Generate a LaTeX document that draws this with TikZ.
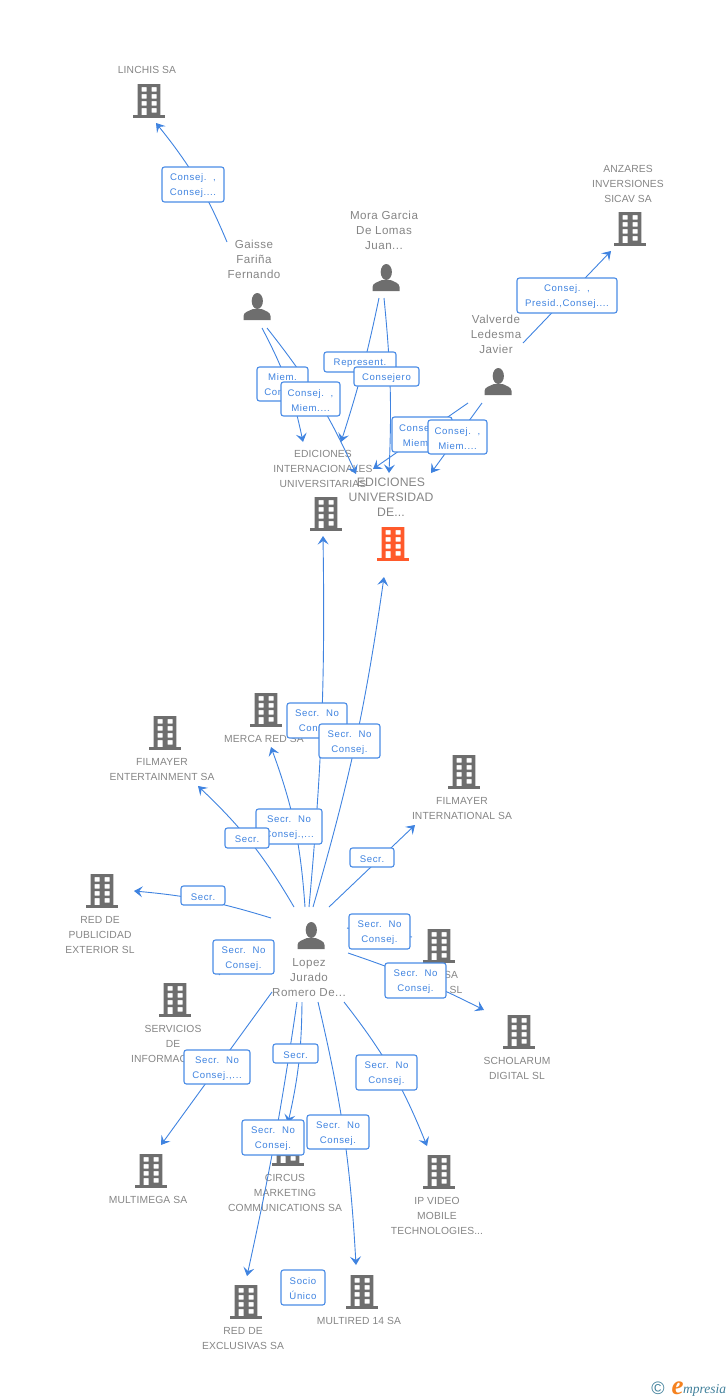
\documentclass[tikz,border=0pt]{standalone}
\usepackage{fontspec}
\setmainfont{Liberation Sans}
\newfontfamily\logofont{Liberation Serif}
\newfontfamily\bnamefont[LetterSpace=1.2]{Liberation Sans}
\newfontfamily\pnamefont[LetterSpace=4]{Liberation Sans}
\newfontfamily\labfont[LetterSpace=6.5,WordSpace=1.7]{Liberation Sans}
\usetikzlibrary{arrows.meta}
\definecolor{iconGray}{HTML}{6E6E6E}
\definecolor{nameGray}{HTML}{858585}
\definecolor{linkBlue}{HTML}{3F83E0}
\definecolor{boxBlue}{HTML}{4A8CE6}
\definecolor{focusOrange}{HTML}{FF5A2B}
\definecolor{logoTeal}{HTML}{3F7F9A}
\definecolor{logoOrange}{HTML}{F58220}
\tikzset{
  conn/.style={draw=linkBlue,line width=0.9pt,-{Stealth[length=8.5pt,width=11pt,inset=3.5pt]}},
  plain/.style={draw=linkBlue,line width=0.9pt},
  bname/.style={text=nameGray,align=center,inner sep=0pt,font=\bnamefont\fontsize{10.3}{15}\selectfont},
  pname/.style={text=nameGray,align=center,inner sep=0pt,font=\pnamefont\fontsize{11.6}{15}\selectfont},
  fname/.style={text=nameGray,align=center,inner sep=0pt,font=\bnamefont\fontsize{12.2}{15}\selectfont},
  labbox/.style={draw=boxBlue,fill=white,line width=1.1pt,rounded corners=2.5pt,inner sep=0pt},
  labtext/.style={text=linkBlue,align=center,inner sep=0pt,yshift=-1.5pt,font=\labfont\fontsize{9.6}{15}\selectfont},
  iconspot/.style={inner sep=0pt,minimum width=32pt,minimum height=34pt}
}
\newcommand{\bicon}[4][iconGray]{%
  \node[iconspot] (#2) at (#3,{#4+16.5}) {};
  \begin{scope}[shift={(#3,#4)}]
    \fill[#1,even odd rule] (-11.3,0) rectangle (11.3,31)
      (-7.5,3) rectangle (-2.5,7.5) (2.5,3) rectangle (7.5,7.5)
      (-7.5,10) rectangle (-2.5,14.5) (2.5,10) rectangle (7.5,14.5)
      (-7.5,17) rectangle (-2.5,21.5) (2.5,17) rectangle (7.5,21.5)
      (-7.5,24) rectangle (-2.5,31) (2.5,24) rectangle (7.5,28.5);
    \fill[#1] (-16,31) rectangle (16,33.5);
  \end{scope}}
\newcommand{\picon}[3]{%
  \node[inner sep=0pt,minimum width=27pt,minimum height=27pt] (#1) at (#2,{#3+13.5}) {};
  \begin{scope}[shift={(#2,#3)}]
    \fill[iconGray] (0.3,8) ellipse (5.6pt and 8pt);
    \fill[iconGray] (-13.5,27) -- (-13.5,23) .. controls (-13.5,19) and (-8,18) .. (-4,16) -- (4.6,16) .. controls (8.5,18) and (13.5,19) .. (13.5,23) -- (13.5,27) -- cycle;
  \end{scope}}
\newcommand{\lab}[6]{%
  \node[labbox,minimum width={(#4-#2)*1pt},minimum height={(#5-#3)*1pt}] (#1) at ({(#2+#4)/2},{(#3+#5)/2}) {};
  \node[labtext] (#1t) at (#1) {#6};}
\begin{document}
\begin{tikzpicture}[x=1pt,y=-1pt]
\useasboundingbox (0,0) rectangle (728,1400);
% buildings
\bicon{linchis}{149}{84}
\bicon{anzares}{630}{212}
\bicon{edint}{326}{497}
\bicon[focusOrange]{eduniv}{393}{527}
\bicon{merca}{266}{693}
\bicon{filment}{165}{716}
\bicon{filmint}{464}{755}
\bicon{redpub}{102}{874}
\bicon{servicios}{175}{983}
\bicon{hiddenco}{439}{929}
\bicon{scholarum}{519}{1015}
\bicon{multimega}{151}{1154}
\bicon{circus}{288}{1132}
\bicon{ipvideo}{439}{1155}
\bicon{redexcl}{246}{1285}
\bicon{multired}{362}{1275}
% persons
\picon{gaisse}{257}{293}
\picon{mora}{386}{264}
\picon{valverde}{498}{368}
\picon{lopez}{311}{922}
% names
\node[bname] (nlinchis) at (147,70) {LINCHIS SA};
\node[bname] (nanzares) at (628,183.5) {ANZARES\\INVERSIONES\\SICAV SA};
\node[pname] (nmora) at (384,230) {Mora Garcia\\De Lomas\\Juan...};
\node[pname] (ngaisse) at (254,259) {Gaisse\\Fariña\\Fernando};
\node[pname] (nvalverde) at (496,334) {Valverde\\Ledesma\\Javier};
\node[bname] (nedint) at (323,468.5) {EDICIONES\\INTERNACIONALES\\UNIVERSITARIAS};
\node[fname] (neduniv) at (391,497) {EDICIONES\\UNIVERSIDAD\\DE...};
\node[bname] (nmerca) at (264,739) {MERCA RED SA};
\node[bname] (nfilment) at (162,769.5) {FILMAYER\\ENTERTAINMENT SA};
\node[bname] (nfilmint) at (462,808.5) {FILMAYER\\INTERNATIONAL SA};
\node[bname] (nredpub) at (100,935) {RED DE\\PUBLICIDAD\\EXTERIOR SL};
\node[bname] (nhiddena) at (451,975) {SA};
\node[bname] (nhiddenb) at (456,990) {SL};
\node[bname] (nservicios) at (173,1036.5) {SERVICIOS\\DE};
\node[bname,anchor=west] (nserviciosb) at (131,1059) {INFORMAC};
\node[bname] (nscholarum) at (517,1068.5) {SCHOLARUM\\DIGITAL SL};
\node[bname] (nmultimega) at (148,1200) {MULTIMEGA SA};
\node[bname] (ncircus) at (285,1193) {CIRCUS\\MARKETING\\COMMUNICATIONS SA};
\node[bname] (nipvideo) at (437,1216) {IP VIDEO\\MOBILE\\TECHNOLOGIES...};
\node[bname] (nredexcl) at (243,1338.5) {RED DE\\EXCLUSIVAS SA};
\node[bname] (nmultired) at (359,1321) {MULTIRED 14 SA};
\node[pname] (nlopez) at (309,978) {Lopez\\Jurado\\Romero De...};
% connector ends
\coordinate (gaisseA) at (227,242);   \coordinate (linchisIn) at (156,123);
\coordinate (gaisseB) at (262,328);   \coordinate (edintInA) at (303,442);
\coordinate (gaisseC) at (267,328);   \coordinate (edunivInA) at (356,474);
\coordinate (moraA) at (379,298);     \coordinate (edintInB) at (341,442);
\coordinate (moraB) at (384,298);     \coordinate (edunivInB) at (389,473);
\coordinate (valverdeA) at (523,343); \coordinate (anzaresIn) at (611,251);
\coordinate (valverdeB) at (468,403); \coordinate (edunivInC) at (373,469);
\coordinate (valverdeC) at (482,403); \coordinate (edunivInD) at (431,473);
\coordinate (lopezA) at (309,907);    \coordinate (edintInC) at (323,536);
\coordinate (lopezB) at (313,907);    \coordinate (edunivInE) at (384,577);
\coordinate (lopezC) at (305,907);    \coordinate (mercaIn) at (271,747);
\coordinate (lopezD) at (294,907);    \coordinate (filmentIn) at (198,786);
\coordinate (lopezE) at (329,907);    \coordinate (filmintIn) at (415,825);
\coordinate (lopezF) at (271,918);    \coordinate (redpubIn) at (134,891);
\coordinate (lopezG) at (347,928);    \coordinate (hiddencoIn) at (412,937);
\coordinate (lopezH) at (348,953);    \coordinate (scholarumIn) at (484,1010);
\coordinate (lopezI) at (240,950);    \coordinate (serviciosIn) at (219,975);
\coordinate (lopezJ) at (272,992);    \coordinate (multimegaIn) at (161,1145);
\coordinate (lopezK) at (302,1002);   \coordinate (circusIn) at (288,1123);
\coordinate (lopezL) at (297,1002);   \coordinate (redexclIn) at (247,1276);
\coordinate (lopezM) at (318,1002);   \coordinate (multiredIn) at (356,1265);
\coordinate (lopezN) at (344,1002);   \coordinate (ipvideoIn) at (427,1146);
% connectors
\draw[conn] (gaisseA) to[bend right=8] (linchisIn);
\draw[conn] (gaisseB) to[bend left=8] (edintInA);
\draw[conn] (gaisseC) to[bend left=7] (edunivInA);
\draw[conn] (moraA) to[bend left=3] (edintInB);
\draw[conn] (moraB) to[bend left=4] (edunivInB);
\draw[conn] (valverdeA) -- (anzaresIn);
\draw[conn] (valverdeB) -- (edunivInC);
\draw[conn] (valverdeC) -- (edunivInD);
\draw[conn] (lopezA) to[bend right=3] (edintInC);
\draw[conn] (lopezB) to[bend right=4] (edunivInE);
\draw[conn] (lopezC) to[bend right=8] (mercaIn);
\draw[conn] (lopezD) to[bend right=8] (filmentIn);
\draw[conn] (lopezE) -- (filmintIn);
\draw[conn] (lopezF) to[bend right=6] (redpubIn);
\draw[plain] (lopezG) -- (hiddencoIn);
\draw[conn] (lopezH) to[bend left=4] (scholarumIn);
\draw[plain] (lopezI) -- (serviciosIn);
\draw[conn] (lopezJ) -- (multimegaIn);
\draw[conn] (lopezK) to[bend left=6] (circusIn);
\draw[conn] (lopezL) to[bend left=2] (redexclIn);
\draw[conn] (lopezM) to[bend left=5] (multiredIn);
\draw[conn] (lopezN) to[bend left=8] (ipvideoIn);
% labels
\lab{l1}{162}{167}{224}{202}{Consej. ,\\Consej....}
\lab{l2}{517}{278}{617}{313}{Consej. ,\\Presid.,Consej....}
\lab{l3}{257}{367}{308}{401}{Miem.\\Consej.}
\lab{l4}{281}{382}{340}{416}{Consej. ,\\Miem....}
\lab{l5}{324}{352}{396}{372}{Represent.}
\lab{l6}{354}{367}{419}{386}{Consejero}
\lab{l7}{392}{417}{452}{452}{Consej. ,\\Miem....}
\lab{l8}{428}{420}{487}{454}{Consej. ,\\Miem....}
\lab{l9}{287}{703}{347}{738}{Secr. No\\Consej.}
\lab{l10}{319}{724}{380}{758}{Secr. No\\Consej.}
\lab{l11}{256}{809}{322}{844}{Secr. No\\Consej.,...}
\lab{l12}{225}{828}{269}{848}{Secr.}
\lab{l13}{350}{848}{394}{867}{Secr.}
\lab{l14}{181}{886}{225}{905}{Secr.}
\lab{l15}{213}{940}{274}{974}{Secr. No\\Consej.}
\lab{l16}{349}{914}{410}{949}{Secr. No\\Consej.}
\lab{l17}{385}{963}{446}{998}{Secr. No\\Consej.}
\lab{l18}{184}{1050}{250}{1084}{Secr. No\\Consej.,...}
\lab{l19}{273}{1044}{318}{1063}{Secr.}
\lab{l20}{356}{1055}{417}{1090}{Secr. No\\Consej.}
\lab{l21}{242}{1120}{304}{1155}{Secr. No\\Consej.}
\lab{l22}{307}{1115}{369}{1149}{Secr. No\\Consej.}
\lab{l23}{281}{1270}{325}{1305}{Socio\\Único}
% logo
\node[inner sep=0pt,text=logoTeal,font=\fontsize{18}{18}\selectfont] (logoc) at (658,1388.5) {©};
\node[inner sep=0pt,anchor=base,text=logoOrange,font=\logofont\bfseries\itshape\fontsize{27}{27}\selectfont] (logoe) at (677.5,1394) {e};
\node[inner sep=0pt,anchor=base west,text=logoTeal,font=\logofont\itshape\fontsize{13.5}{14}\selectfont] (logot) at (683,1393) {mpresia};
\end{tikzpicture}
\end{document}
